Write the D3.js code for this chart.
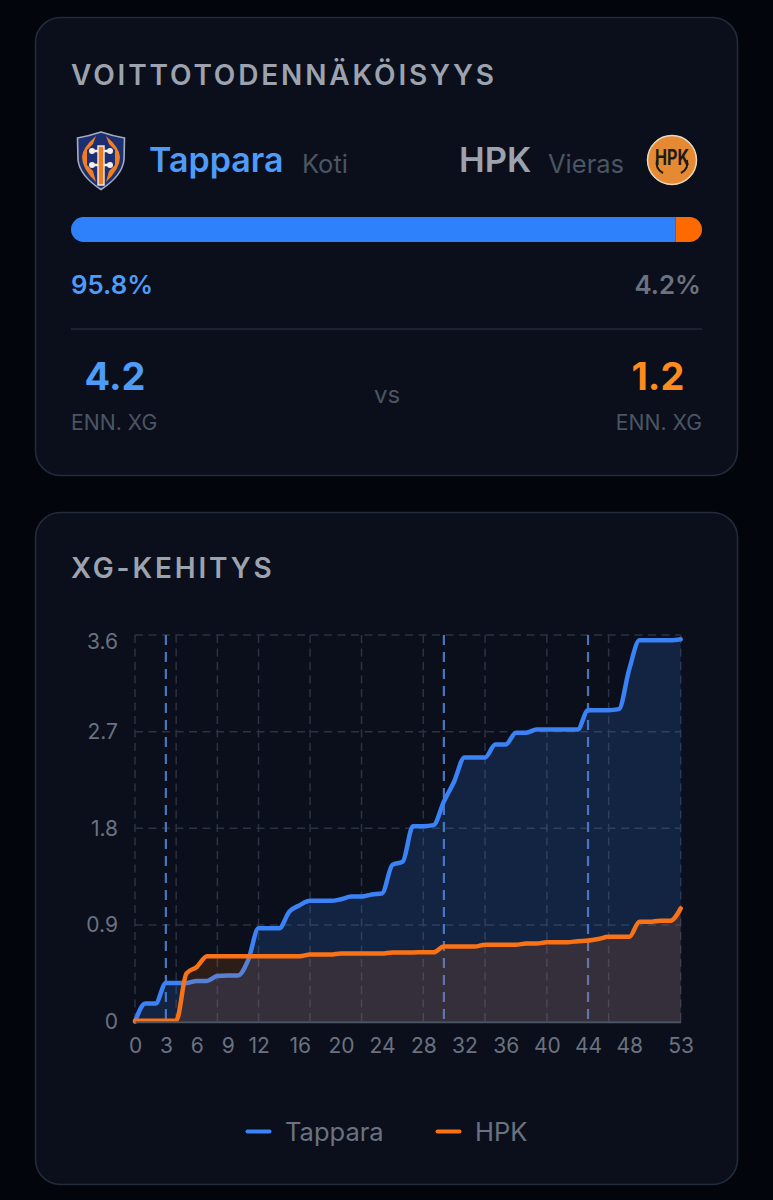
<!DOCTYPE html>
<html>
<head>
<meta charset="utf-8">
<script src="https://cdn.jsdelivr.net/npm/d3@7"></script>
<style>
  html, body { margin: 0; padding: 0; background: #03050c; }
  svg { display: block; font-family: Inter, "Noto Sans", sans-serif; }
</style>
</head>
<body>
<div id="chart"></div>
<script>
const width = 773;
const height = 1200;

const minutes = d3.range(0, 54);
const tappara = [0, 0.17, 0.17, 0.36, 0.36, 0.36, 0.38, 0.38, 0.425, 0.43,
    0.43, 0.575, 0.87, 0.87, 0.87, 1.025, 1.085, 1.125, 1.125, 1.125,
    1.14, 1.165, 1.165, 1.185, 1.195, 1.46, 1.49, 1.82, 1.82, 1.83,
    2.05, 2.236, 2.46, 2.46, 2.46, 2.58, 2.58, 2.69, 2.69, 2.72,
    2.72, 2.72, 2.72, 2.72, 2.9, 2.9, 2.9, 2.91, 3.28, 3.55,
    3.55, 3.55, 3.55, 3.56];
const hpk = [0.01, 0.01, 0.01, 0.01, 0.01, 0.45, 0.51, 0.61, 0.61, 0.61,
    0.61, 0.61, 0.61, 0.61, 0.61, 0.61, 0.61, 0.625, 0.625, 0.625,
    0.635, 0.635, 0.635, 0.635, 0.635, 0.645, 0.645, 0.645, 0.646, 0.646,
    0.7, 0.7, 0.7, 0.7, 0.717, 0.717, 0.717, 0.717, 0.727, 0.727,
    0.74, 0.74, 0.74, 0.75, 0.755, 0.77, 0.79, 0.79, 0.79, 0.93,
    0.93, 0.94, 0.94, 1.055];

const xTicks = [0, 3, 6, 9, 12, 16, 20, 24, 28, 32, 36, 40, 44, 48, 53];
const yTicks = [0, 0.9, 1.8, 2.7, 3.6];
const gridMinutes = [0, 4, 8, 12, 17, 22, 28, 34, 40, 46, 53];
const goalMinutes = [3, 30, 44];

const winHome = 95.8;
const winAway = 4.2;

const blue = "#3b82f6";
const orange = "#f97316";

const svg = d3.select("#chart")
    .append("svg")
    .attr("width", width)
    .attr("height", height);

// cards
let cards = [[17.5, 458], [512.5, 672]];
svg.selectAll("rect.card")
    .data(cards)
    .join("rect")
    .attr("class", "card")
    .attr("x", 35.5)
    .attr("y", d => d[0])
    .attr("width", 702)
    .attr("height", d => d[1])
    .attr("rx", 25)
    .attr("fill", "#0a0f1b")
    .attr("stroke", "#222b3b")
    .attr("stroke-width", 1.6);

let label = function(txt, x, y, size, color, weight, anchor, spacing) {
    return svg.append("text")
        .attr("x", x)
        .attr("y", y)
        .attr("fill", color)
        .attr("text-anchor", anchor || "start")
        .style("font-size", size + "px")
        .style("font-weight", weight || 400)
        .style("letter-spacing", (spacing || 0) + "px")
        .text(txt);
}

label("VOITTOTODENNÄKÖISYYS", 71, 85, 28, "#9ca3af", 600, "start", 2.85);
label("XG-KEHITYS", 71, 578, 28, "#9ca3af", 600, "start", 2.85);

// team row
label("Tappara", 149, 172, 34, "#4f9bf8", 600);
label("Koti", 302, 173, 25.5, "#4b5563");
label("HPK", 459, 172, 34.5, "#9ca3af", 600);
label("Vieras", 548, 173, 25.5, "#4b5563");

// Tappara shield
let shield = svg.append("g").attr("transform", "translate(101,160)");
shield.append("path")
    .attr("d", "M0,-28 Q12,-24 23.5,-22 L23,0 Q21,16 0,29.5 Q-21,16 -23,0 L-23.5,-22 Q-12,-24 0,-28Z")
    .attr("fill", "#1c2f73")
    .attr("stroke", "#a7adb8")
    .attr("stroke-width", 1.6);
shield.selectAll("path.flame")
    .data([-1, 1])
    .join("path")
    .attr("class", "flame")
    .attr("transform", d => `scale(${d},1)`)
    .attr("d", "M5,-24 Q19,-12 19,-3 Q19,9 5,22 L8,11 L14,5 L14,-10 L8,-16Z")
    .attr("fill", "#ef7d22");
shield.append("path")
    .attr("d", "M-9,-9 H9 M-9,5 H9")
    .attr("fill", "none")
    .attr("stroke", "#f3eee8")
    .attr("stroke-width", 2.4);
shield.append("rect")
    .attr("x", -3)
    .attr("y", -14)
    .attr("width", 6)
    .attr("height", 39)
    .attr("fill", "#ef7d22")
    .attr("stroke", "#f3eee8")
    .attr("stroke-width", 1.4);
shield.selectAll("circle")
    .data([[-9, -9], [9, -9], [-9, 5], [9, 5]])
    .join("circle")
    .attr("cx", d => d[0])
    .attr("cy", d => d[1])
    .attr("r", 3)
    .attr("fill", "#f3eee8");

// HPK badge
let badge = svg.append("g").attr("transform", "translate(672,160)");
badge.append("circle")
    .attr("r", 24.5)
    .attr("fill", "#e58a32")
    .attr("stroke", "#e9d9c0")
    .attr("stroke-width", 1.5);
badge.append("text")
    .attr("x", -17)
    .attr("y", 5)
    .attr("textLength", 34)
    .attr("lengthAdjust", "spacingAndGlyphs")
    .attr("fill", "#1d1a18")
    .style("font-size", "21px")
    .style("font-weight", 700)
    .text("HPK");
badge.append("path")
    .attr("d", "M-15,0 Q-17,9 -9,13 M15,0 Q17,9 9,13")
    .attr("fill", "none")
    .attr("stroke", "#1d1a18")
    .attr("stroke-width", 2);

// probability bar
const barX = d3.scaleLinear().domain([0, 100]).range([71, 702]);
svg.append("clipPath")
    .attr("id", "bar-clip")
    .append("rect")
    .attr("x", barX(0))
    .attr("y", 217)
    .attr("width", barX(100) - barX(0))
    .attr("height", 25)
    .attr("rx", 12.5);

svg.selectAll("rect.prob")
    .data([[0, winHome, "#2f80fb"], [winHome, winHome + winAway, "#ff6a00"]])
    .join("rect")
    .attr("class", "prob")
    .attr("clip-path", "url(#bar-clip)")
    .attr("x", d => barX(d[0]))
    .attr("y", 217)
    .attr("width", d => barX(d[1]) - barX(d[0]))
    .attr("height", 25)
    .attr("fill", d => d[2]);

label(winHome.toFixed(1) + "%", 71, 294, 25.8, "#4f9bf8", 600);
label(winAway.toFixed(1) + "%", 701, 294, 25.8, "#6b7280", 600, "end");

svg.append("line")
    .attr("x1", 71)
    .attr("x2", 702)
    .attr("y1", 329)
    .attr("y2", 329)
    .attr("stroke", "#222b3b")
    .attr("stroke-width", 1.5);

label("4.2", 115, 390, 38, "#4f9bf8", 700, "middle");
label("ENN. XG", 71, 430, 21.2, "#4b5563");
label("vs", 387, 403, 24, "#4b5563", 400, "middle");
label("1.2", 658, 390, 38, "#ff8a1e", 700, "middle");
label("ENN. XG", 702, 430, 21.2, "#4b5563", 400, "end");

// xG chart
const xScale = d3.scaleLinear().domain([0, 53]).range([135, 680.7]);
const yScale = d3.scaleLinear().domain([0, 3.6]).range([1021.7, 635]);

let grid = svg.append("g").attr("class", "grid");

grid.selectAll("line.h")
    .data(yTicks.slice(1))
    .join("line")
    .attr("class", "h")
    .attr("x1", xScale(0))
    .attr("x2", xScale(53))
    .attr("y1", d => yScale(d))
    .attr("y2", d => yScale(d))
    .attr("stroke", "#2a3342")
    .attr("stroke-width", 1.5)
    .attr("stroke-dasharray", "8 5.5");

grid.selectAll("line.v")
    .data(gridMinutes)
    .join("line")
    .attr("class", "v")
    .attr("x1", d => xScale(d))
    .attr("x2", d => xScale(d))
    .attr("y1", yScale(3.6))
    .attr("y2", yScale(0))
    .attr("stroke", "#2a3342")
    .attr("stroke-width", 1.5)
    .attr("stroke-dasharray", "8 5.5");

grid.selectAll("line.goal")
    .data(goalMinutes)
    .join("line")
    .attr("class", "goal")
    .attr("x1", d => xScale(d))
    .attr("x2", d => xScale(d))
    .attr("y1", yScale(3.6))
    .attr("y2", yScale(0))
    .attr("stroke", "#4a76b8")
    .attr("stroke-width", 2.2)
    .attr("stroke-dasharray", "10 7");

let area = d3.area()
    .x((d, i) => xScale(minutes[i]))
    .y0(yScale(0))
    .y1(d => yScale(d))
    .curve(d3.curveMonotoneX);

let line = d3.line()
    .x((d, i) => xScale(minutes[i]))
    .y(d => yScale(d))
    .curve(d3.curveMonotoneX);

[[tappara, blue, 0.18], [hpk, orange, 0.15]].forEach(function(s) {
    svg.append("path")
        .attr("d", area(s[0]))
        .attr("fill", s[1])
        .attr("fill-opacity", s[2]);
    svg.append("path")
        .attr("d", line(s[0]))
        .attr("fill", "none")
        .attr("stroke", s[1])
        .attr("stroke-width", 4.5)
        .attr("stroke-linejoin", "round")
        .attr("stroke-linecap", "round");
});

// axes
let xAxis = d3.axisBottom(xScale)
    .tickValues(xTicks)
    .tickSize(0)
    .tickPadding(16)
    .tickFormat(d => d);
let yAxis = d3.axisLeft(yScale)
    .tickValues(yTicks)
    .tickSize(0)
    .tickPadding(17)
    .tickFormat(d => d);

let gx = svg.append("g")
    .attr("transform", `translate(0, ${yScale(0)})`)
    .call(xAxis);
let gy = svg.append("g")
    .attr("transform", `translate(${xScale(0)}, 0)`)
    .call(yAxis);

gx.select(".domain").attr("stroke", "#4b5563").attr("stroke-width", 2);
gy.select(".domain").remove();

svg.selectAll(".tick text")
    .attr("fill", "#6b7280")
    .style("font-size", "21px")
    .style("font-family", "Inter, 'Noto Sans', sans-serif");

// top y label sits lower in the original
gy.selectAll(".tick text")
    .filter(d => d === 3.6)
    .attr("dy", "0.62em");

// legend
let legend = svg.selectAll("g.legend")
    .data([["Tappara", blue, 246], ["HPK", orange, 436]])
    .join("g")
    .attr("class", "legend")
    .attr("transform", d => `translate(${d[2]}, 1131.5)`);

legend.append("line")
    .attr("x1", 1.5)
    .attr("x2", 23.5)
    .attr("stroke", d => d[1])
    .attr("stroke-width", 4)
    .attr("stroke-linecap", "round");

legend.append("text")
    .attr("x", 39)
    .attr("y", 9)
    .attr("fill", "#6b7280")
    .style("font-size", "25.5px")
    .text(d => d[0]);
</script>
</body>
</html>
